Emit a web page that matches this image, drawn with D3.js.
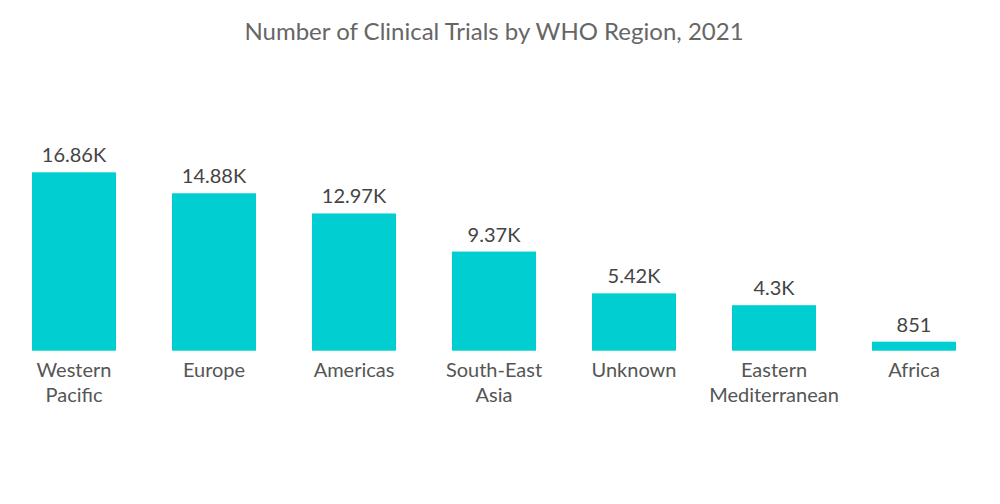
<html>
<head>
<script src="https://cdn.jsdelivr.net/npm/d3@7"></script>
<style>
body { margin: 0; background: #fff; }
text { font-family: Lato, "Open Sans", sans-serif; }
</style>
</head>
<body>
<script>
var width = 1000, height = 504;

// data
var regions = [["Western", "Pacific"], ["Europe"], ["Americas"], ["South-East", "Asia"], ["Unknown"], ["Eastern", "Mediterranean"], ["Africa"]];
var trials = [16860, 14880, 12970, 9370, 5420, 4300, 851];
var valueLabels = ["16.86K", "14.88K", "12.97K", "9.37K", "5.42K", "4.3K", "851"];

var keys = regions.map(function(r) { return r.join(" "); });

var svg = d3.select("body").append("svg")
    .attr("width", width)
    .attr("height", height);

svg.append("text")
    .attr("x", 494)
    .attr("y", 40)
    .attr("text-anchor", "middle")
    .style("font-size", "24px")
    .style("fill", "#666")
    .text("Number of Clinical Trials by WHO Region, 2021");

var x = d3.scaleBand()
    .domain(keys)
    .range([4, 984])
    .paddingInner(0.4)
    .paddingOuter(0.2);

var y = d3.scaleLinear()
    .domain([0, 16860])
    .range([350.7, 172.3]);

var g = svg.append("g");

g.selectAll("rect")
    .data(trials)
    .enter()
    .append("rect")
    .attr("x", function(d, i) { return x(keys[i]); })
    .attr("y", function(d) { return y(d); })
    .attr("width", x.bandwidth())
    .attr("height", function(d) { return y(0) - y(d); })
    .style("fill", "#00CED1");

g.selectAll("text.val")
    .data(trials)
    .enter()
    .append("text")
    .attr("class", "val")
    .attr("x", function(d, i) { return x(keys[i]) + x.bandwidth() / 2; })
    .attr("y", function(d) { return y(d) - 10; })
    .attr("text-anchor", "middle")
    .style("font-size", "20px")
    .style("fill", "#444")
    .text(function(d, i) { return valueLabels[i]; });

var cat = g.selectAll("text.cat")
    .data(regions)
    .enter()
    .append("text")
    .attr("class", "cat")
    .attr("x", function(d, i) { return x(keys[i]) + x.bandwidth() / 2; })
    .attr("y", 377)
    .attr("text-anchor", "middle")
    .style("font-size", "20px")
    .style("fill", "#555");

cat.selectAll("tspan")
    .data(function(d) { return d; })
    .enter()
    .append("tspan")
    .attr("x", function() { return d3.select(this.parentNode).attr("x"); })
    .attr("dy", function(d, j) { return j ? 25 : 0; })
    .text(function(d) { return d; });
</script>
</body>
</html>
